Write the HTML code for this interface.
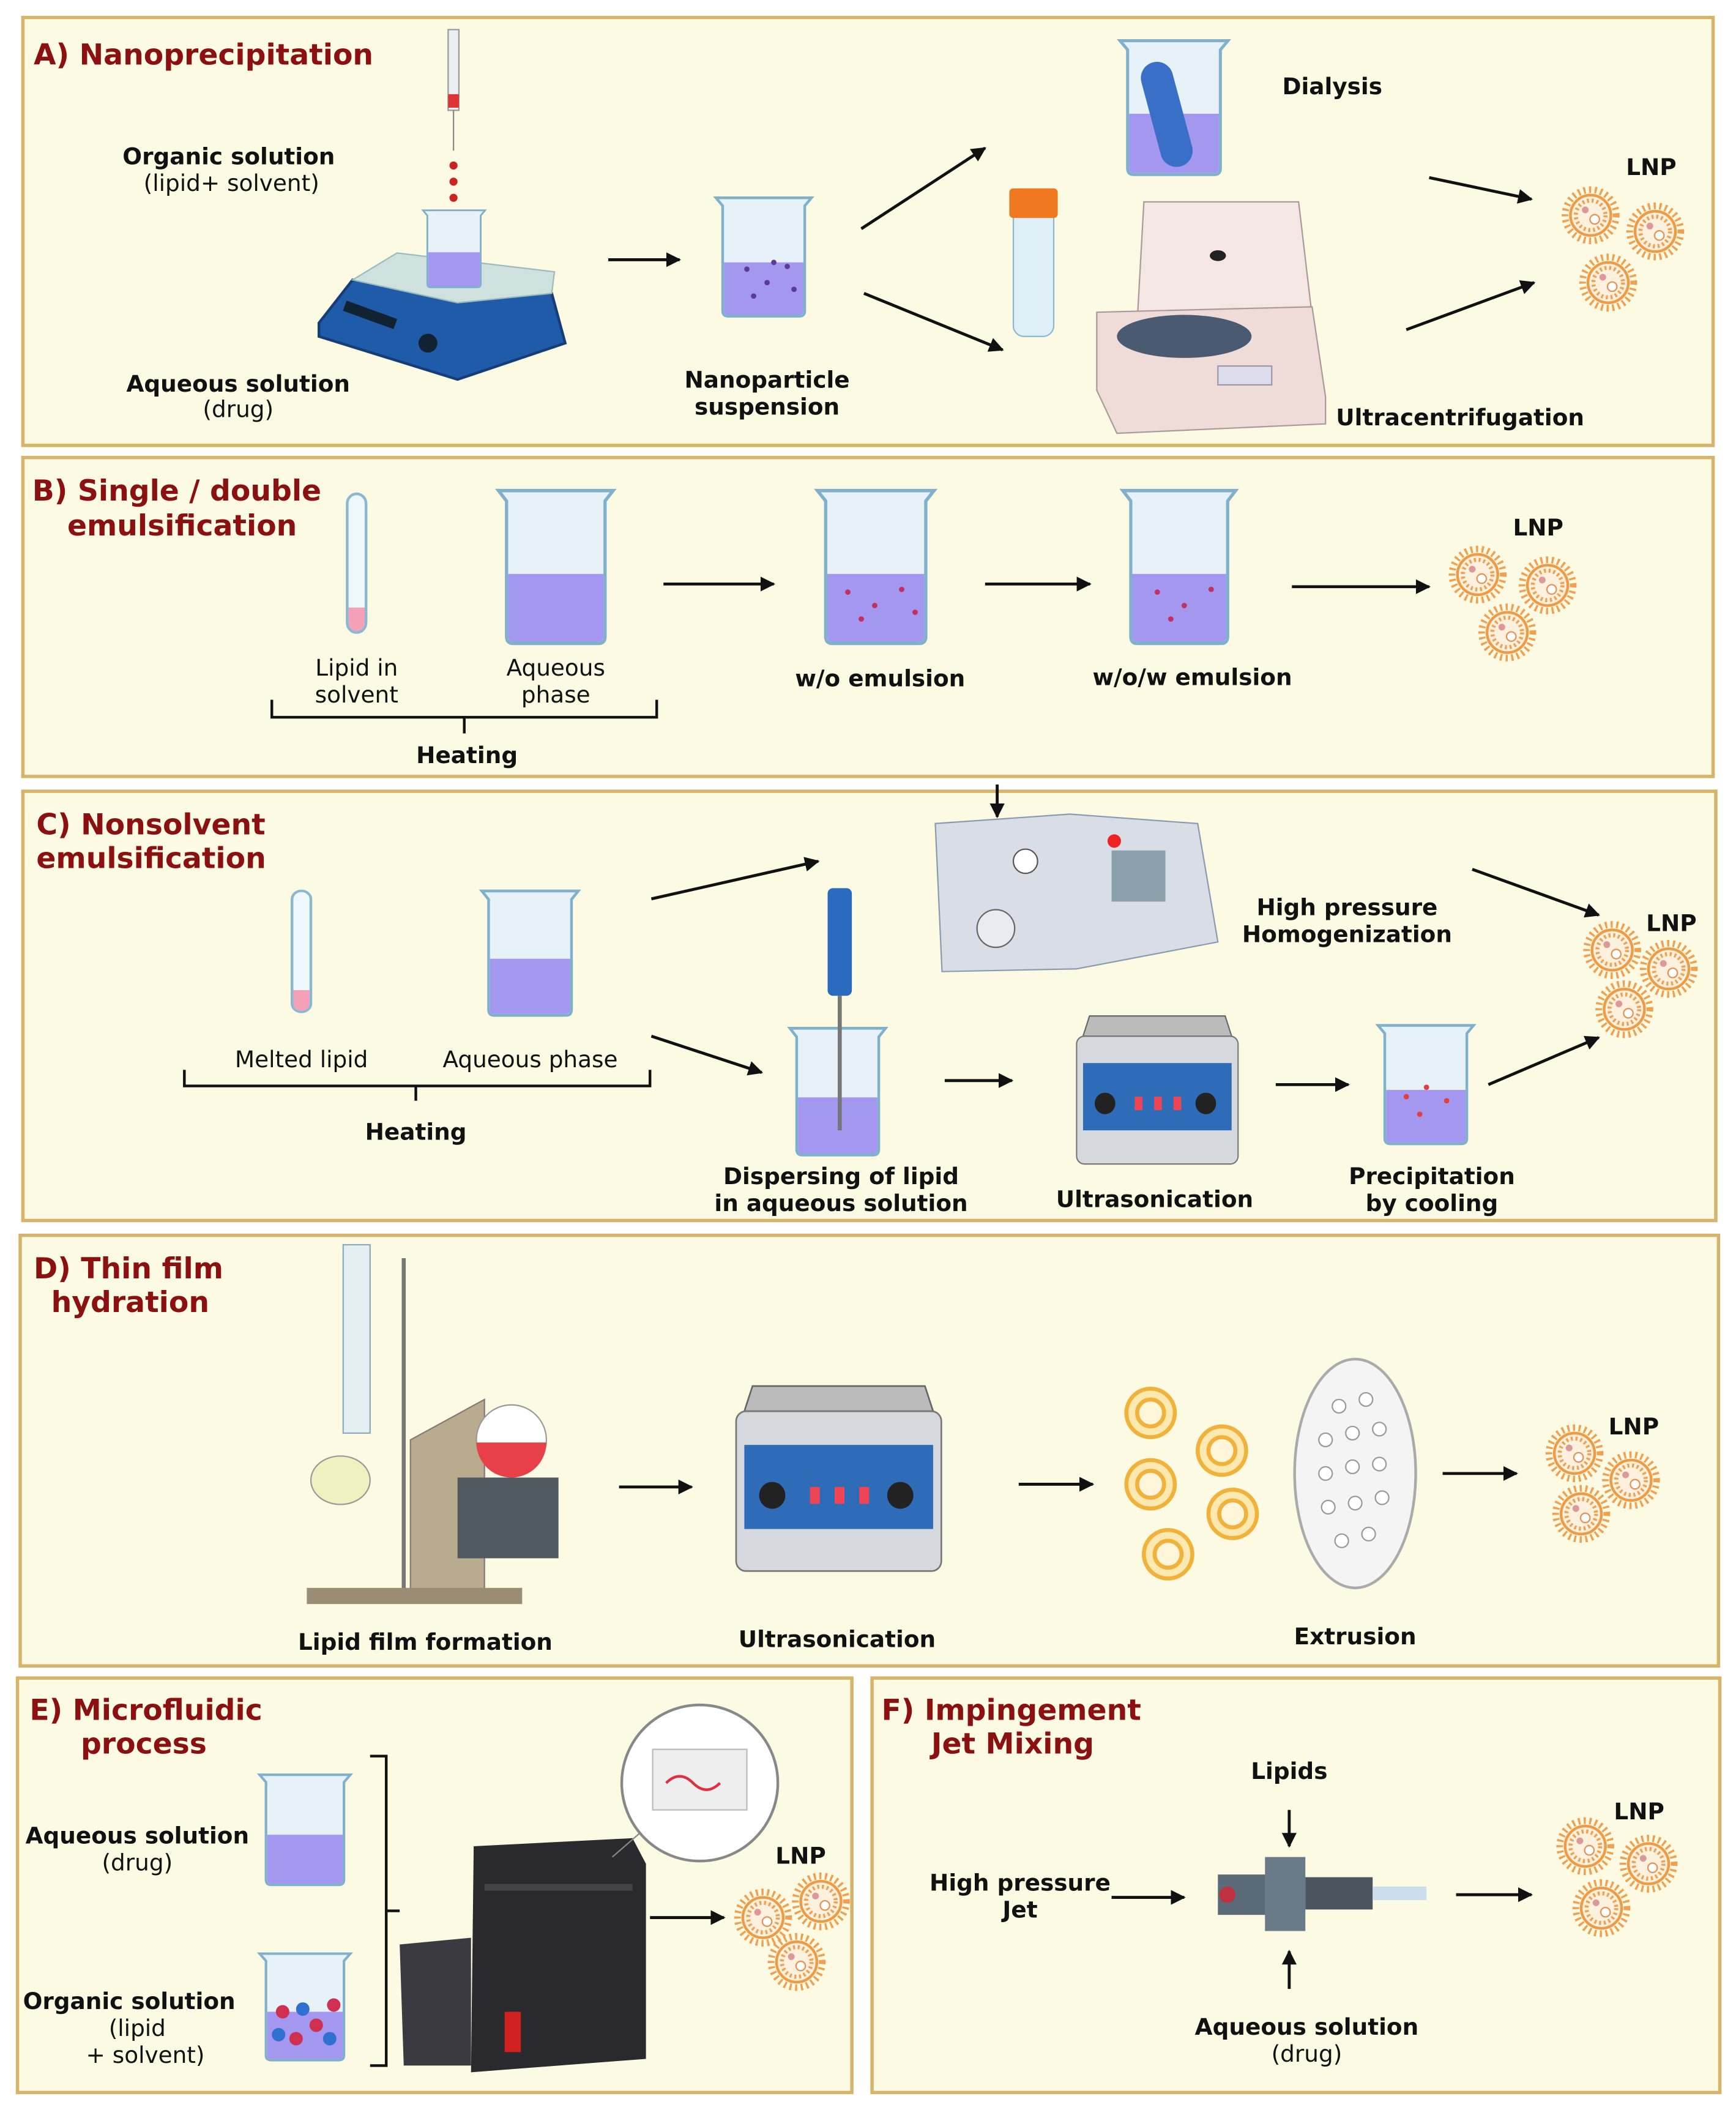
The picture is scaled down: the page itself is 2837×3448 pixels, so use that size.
<!DOCTYPE html>
<html><head><meta charset="utf-8"><style>
html,body{margin:0;padding:0;background:#fff}
svg{display:block}
text{font-family:"DejaVu Sans","Liberation Sans",sans-serif;fill:#111}
.t{font-size:21.5px;fill:#8b1010;font-weight:bold}
.l{font-size:17px;font-weight:bold;text-anchor:middle}
.s{font-size:17px;text-anchor:middle}
.ar{stroke:#111;stroke-width:2.2;fill:none;marker-end:url(#ah)}
.p{fill:#fdfae3;stroke:#d6b46a;stroke-width:2.5}
</style></head><body>
<svg width="2837" height="3448" viewBox="0 0 1290 1568" preserveAspectRatio="none" xmlns="http://www.w3.org/2000/svg">
<defs>
<marker id="ah" viewBox="0 0 10 10" refX="9" refY="5" markerWidth="5" markerHeight="5" orient="auto"><path d="M0,0L10,5L0,10z" fill="#111"/></marker>
<g id="lnp"><circle r="19" fill="none" stroke="#f0a050" stroke-width="5" stroke-dasharray="1.6 2.6"/><circle r="15" fill="#fdf0dc" stroke="#ef9a45" stroke-width="2"/><circle r="11" fill="none" stroke="#f0a050" stroke-width="3" stroke-dasharray="1.5 2"/><circle cx="3" cy="3" r="3.5" fill="#fff" stroke="#e89050"/><circle cx="-4" cy="-4" r="2.5" fill="#d99"/></g>
<g id="bk"><path d="M2,2 L73,2 L68,8 L68,86 Q68,90 64,90 L11,90 Q7,90 7,86 L7,8 Z" fill="#e6f2f8" stroke="#7fb0cc" stroke-width="2"/><path d="M8,50 L67,50 L67,86 Q67,89 64,89 L11,89 Q8,89 8,86Z" fill="#a497f0"/></g>
<g id="lip"><circle r="18" fill="#fde9b0" stroke="#f0b23a" stroke-width="3"/><circle r="10" fill="#fff6da" stroke="#f0b23a" stroke-width="3"/></g>
<g id="bath"><path d="M5,15 L120,15 L115,0 L10,0Z" fill="#bbb" stroke="#666"/><rect x="0" y="15" width="125" height="95" rx="6" fill="#d5d9de" stroke="#777"/><rect x="5" y="35" width="115" height="50" fill="#2f6cb8"/><circle cx="22" cy="65" r="8" fill="#222"/><circle cx="100" cy="65" r="8" fill="#222"/><rect x="45" y="60" width="6" height="10" fill="#e45"/><rect x="60" y="60" width="6" height="10" fill="#e45"/><rect x="75" y="60" width="6" height="10" fill="#e45"/></g>
<g id="tube"><rect x="0" y="0" width="14" height="100" rx="7" fill="#eef7fb" stroke="#8bb8d0" stroke-width="2"/><path d="M1,82 L13,82 L13,93 A6,6 0 0 1 1,93Z" fill="#f4a0b8"/></g>
</defs>

<rect width="1290" height="1568" fill="#fff"/>
<rect class="p" x="17" y="13" width="1256" height="318"/>
<rect class="p" x="17" y="340" width="1256" height="237"/>
<rect class="p" x="17" y="588" width="1258" height="319"/>
<rect class="p" x="15" y="918" width="1262" height="320"/>
<rect class="p" x="13" y="1247" width="620" height="308"/>
<rect class="p" x="648" y="1247" width="630" height="308"/>

<!-- A -->
<text class="t" x="25" y="48">A) Nanoprecipitation</text>
<rect x="333" y="22" width="8" height="60" fill="#e8eef2" stroke="#999"/><rect x="333" y="70" width="8" height="10" fill="#d33"/><line x1="337" y1="82" x2="337" y2="112" stroke="#888"/>
<circle cx="337" cy="123" r="3" fill="#c22"/><circle cx="337" cy="135" r="3" fill="#c22"/><circle cx="337" cy="147" r="3" fill="#c22"/>
<text class="l" x="170" y="122">Organic solution</text><text class="s" x="172" y="142">(lipid+ solvent)</text>
<path d="M237,240 L262,208 L410,218 L420,255 L340,282 L237,250 Z" fill="#1f5ba8" stroke="#143e78" stroke-width="2"/>
<path d="M262,208 L295,188 L412,202 L410,218 L340,225Z" fill="#cfe1df" stroke="#9bb"/>
<rect x="255" y="230" width="40" height="8" fill="#123" transform="rotate(20 275 234)"/><circle cx="318" cy="255" r="7" fill="#123"/>
<use href="#bk" transform="translate(313,155) scale(0.65)"/>
<text class="l" x="177" y="291">Aqueous solution</text><text class="s" x="177" y="310">(drug)</text>
<line class="ar" x1="452" y1="193" x2="505" y2="193"/>
<use href="#bk" transform="translate(530,145)"/>
<g fill="#5a3a9a"><circle cx="555" cy="200" r="2"/><circle cx="570" cy="210" r="2"/><circle cx="585" cy="198" r="2"/><circle cx="560" cy="220" r="2"/><circle cx="590" cy="215" r="2"/><circle cx="575" cy="195" r="2"/></g>
<text class="l" x="570" y="288">Nanoparticle</text><text class="l" x="570" y="308">suspension</text>
<line class="ar" x1="640" y1="170" x2="732" y2="110"/><line class="ar" x1="642" y1="218" x2="745" y2="260"/>
<use href="#bk" transform="translate(830,28) scale(1.13)"/><rect x="855" y="45" width="24" height="80" rx="12" fill="#3a6fc8" transform="rotate(-15 867 85)"/>
<text class="l" x="990" y="70">Dialysis</text>
<rect x="753" y="150" width="30" height="100" rx="8" fill="#dfeff8" stroke="#8bb8d0"/><rect x="750" y="140" width="36" height="22" rx="3" fill="#f07820"/>
<path d="M850,150 L965,150 L975,235 L845,240Z" fill="#f3e6e3" stroke="#a99"/><ellipse cx="905" cy="190" rx="6" ry="4" fill="#222"/>
<path d="M815,232 L975,228 L985,295 L985,315 L830,322 L815,290Z" fill="#efdcd8" stroke="#a99"/>
<ellipse cx="880" cy="250" rx="50" ry="16" fill="#4a5a70"/><rect x="905" y="272" width="40" height="14" fill="#dde" stroke="#99a"/>
<text class="l" x="1085" y="316">Ultracentrifugation</text>
<line class="ar" x1="1062" y1="132" x2="1138" y2="148"/><line class="ar" x1="1045" y1="245" x2="1140" y2="210"/>
<use href="#lnp" x="1182" y="160"/><use href="#lnp" x="1230" y="172"/><use href="#lnp" x="1195" y="210"/>
<text class="l" x="1227" y="130">LNP</text>

<!-- B -->
<text class="t" x="24" y="372">B) Single / double</text><text class="t" x="50" y="398">emulsification</text>
<use href="#tube" transform="translate(258,367) scale(1,1.03)"/>
<use href="#bk" transform="translate(368,362) scale(1.2,1.29)"/>
<text class="s" x="265" y="502">Lipid in</text><text class="s" x="265" y="522">solvent</text>
<text class="s" x="413" y="502">Aqueous</text><text class="s" x="413" y="522">phase</text>
<path d="M202,520 L202,533 L488,533 L488,520 M345,533 L345,545" stroke="#111" stroke-width="2" fill="none"/>
<text class="l" x="347" y="567">Heating</text>
<line class="ar" x1="493" y1="434" x2="575" y2="434"/>
<use href="#bk" transform="translate(605,362) scale(1.22,1.29)"/>
<text class="l" x="654" y="510">w/o emulsion</text>
<line class="ar" x1="732" y1="434" x2="810" y2="434"/>
<use href="#bk" transform="translate(832,362) scale(1.18,1.29)"/>
<g fill="#c03060"><circle cx="630" cy="440" r="2"/><circle cx="650" cy="450" r="2"/><circle cx="670" cy="438" r="2"/><circle cx="640" cy="460" r="2"/><circle cx="680" cy="455" r="2"/><circle cx="860" cy="440" r="2"/><circle cx="880" cy="450" r="2"/><circle cx="900" cy="438" r="2"/><circle cx="870" cy="460" r="2"/></g>
<text class="l" x="886" y="509">w/o/w emulsion</text>
<line class="ar" x1="960" y1="436" x2="1062" y2="436"/>
<use href="#lnp" x="1098" y="427"/><use href="#lnp" x="1150" y="435"/><use href="#lnp" x="1120" y="470"/>
<text class="l" x="1143" y="398">LNP</text>

<!-- C -->
<text class="t" x="27" y="620">C) Nonsolvent</text><text class="t" x="27" y="645">emulsification</text>
<use href="#tube" transform="translate(217,662) scale(1,0.9)"/>
<use href="#bk" transform="translate(356,660) scale(1.01,1.05)"/>
<text class="s" x="224" y="793">Melted lipid</text><text class="s" x="394" y="793">Aqueous phase</text>
<path d="M137,795 L137,807 L483,807 L483,795 M309,807 L309,818" stroke="#111" stroke-width="2" fill="none"/>
<text class="l" x="309" y="847">Heating</text>
<line class="ar" x1="484" y1="668" x2="608" y2="640"/>
<path d="M695,612 L795,605 L890,612 L905,700 L800,720 L700,722Z" fill="#d8dde6" stroke="#8a9ab0"/>
<rect x="826" y="632" width="40" height="38" fill="#8aa0aa"/><circle cx="828" cy="625" r="5" fill="#e22"/><circle cx="762" cy="640" r="9" fill="#fff" stroke="#555"/><circle cx="740" cy="690" r="14" fill="#e8ecf0" stroke="#666"/>
<line class="ar" x1="741" y1="583" x2="741" y2="607"/>
<text class="l" x="1001" y="680">High pressure</text><text class="l" x="1001" y="700">Homogenization</text>
<line class="ar" x1="1094" y1="646" x2="1188" y2="680"/>
<use href="#lnp" x="1198" y="706"/><use href="#lnp" x="1240" y="720"/><use href="#lnp" x="1207" y="750"/>
<text class="l" x="1242" y="692">LNP</text>
<line class="ar" x1="484" y1="770" x2="566" y2="797"/>
<use href="#bk" transform="translate(585,762) scale(1,1.07)"/>
<rect x="615" y="660" width="18" height="80" rx="4" fill="#2a6bc0"/><line x1="624" y1="740" x2="624" y2="840" stroke="#777" stroke-width="3"/>
<text class="l" x="625" y="880">Dispersing of lipid</text><text class="l" x="625" y="900">in aqueous solution</text>
<line class="ar" x1="702" y1="803" x2="752" y2="803"/>
<use href="#bath" transform="translate(800,755) scale(0.96,1)"/>
<text class="l" x="858" y="897">Ultrasonication</text>
<line class="ar" x1="948" y1="806" x2="1002" y2="806"/>
<use href="#bk" transform="translate(1022,760) scale(1,1)"/>
<g fill="#e04040"><circle cx="1045" cy="815" r="2"/><circle cx="1060" cy="808" r="2"/><circle cx="1075" cy="818" r="2"/><circle cx="1055" cy="828" r="2"/></g>
<text class="l" x="1064" y="880">Precipitation</text><text class="l" x="1064" y="900">by cooling</text>
<line class="ar" x1="1106" y1="806" x2="1188" y2="771"/>

<!-- D -->
<text class="t" x="25" y="950">D) Thin film</text><text class="t" x="38" y="975">hydration</text>
<rect x="255" y="925" width="20" height="140" fill="#e4eff4" stroke="#8ab"/>
<line x1="300" y1="935" x2="300" y2="1185" stroke="#777" stroke-width="3"/>
<ellipse cx="253" cy="1100" rx="22" ry="18" fill="#f0f0c0" stroke="#999"/>
<path d="M305,1070 L360,1040 L360,1185 L305,1185Z" fill="#b8ab8e" stroke="#877"/>
<rect x="228" y="1180" width="160" height="12" fill="#9a8d74"/>
<circle cx="380" cy="1070" r="26" fill="#fff" stroke="#999"/><path d="M354,1072 A26,26 0 0 0 406,1072Z" fill="#e84048"/>
<rect x="340" y="1098" width="75" height="60" fill="#505860"/>
<text class="l" x="316" y="1226">Lipid film formation</text>
<line class="ar" x1="460" y1="1105" x2="514" y2="1105"/>
<use href="#bath" transform="translate(547,1030) scale(1.22,1.25)"/>
<text class="l" x="622" y="1224">Ultrasonication</text>
<line class="ar" x1="757" y1="1103" x2="812" y2="1103"/>
<use href="#lip" x="855" y="1050"/><use href="#lip" x="908" y="1078"/><use href="#lip" x="855" y="1103"/><use href="#lip" x="916" y="1125"/><use href="#lip" x="868" y="1155"/>
<ellipse cx="1007" cy="1095" rx="45" ry="85" fill="#f4f4f4" stroke="#aaa" stroke-width="2"/>
<g fill="#fff" stroke="#999"><circle cx="995" cy="1045" r="5"/><circle cx="1015" cy="1040" r="5"/><circle cx="985" cy="1070" r="5"/><circle cx="1005" cy="1065" r="5"/><circle cx="1025" cy="1062" r="5"/><circle cx="985" cy="1095" r="5"/><circle cx="1005" cy="1090" r="5"/><circle cx="1025" cy="1088" r="5"/><circle cx="987" cy="1120" r="5"/><circle cx="1007" cy="1117" r="5"/><circle cx="1027" cy="1113" r="5"/><circle cx="997" cy="1145" r="5"/><circle cx="1017" cy="1140" r="5"/></g>
<text class="l" x="1007" y="1222">Extrusion</text>
<line class="ar" x1="1072" y1="1095" x2="1127" y2="1095"/>
<use href="#lnp" x="1170" y="1080"/><use href="#lnp" x="1212" y="1100"/><use href="#lnp" x="1175" y="1125"/>
<text class="l" x="1214" y="1066">LNP</text>

<!-- E -->
<text class="t" x="22" y="1278">E) Microfluidic</text><text class="t" x="60" y="1303">process</text>
<use href="#bk" transform="translate(191,1317) scale(0.95,0.93)"/>
<text class="l" x="102" y="1370">Aqueous solution</text><text class="s" x="102" y="1390">(drug)</text>
<use href="#bk" transform="translate(191,1450) scale(0.95,0.9)"/>
<g fill="#d03050"><circle cx="210" cy="1495" r="5"/><circle cx="235" cy="1505" r="5"/><circle cx="220" cy="1515" r="5"/><circle cx="248" cy="1490" r="5"/></g>
<g fill="#3070d0"><circle cx="225" cy="1493" r="5"/><circle cx="245" cy="1515" r="5"/><circle cx="207" cy="1512" r="5"/></g>
<text class="l" x="96" y="1493">Organic solution</text><text class="s" x="102" y="1513">(lipid</text><text class="s" x="108" y="1533">+ solvent)</text>
<path d="M275,1305 L287,1305 L287,1535 L275,1535 M287,1420 L297,1420" stroke="#111" stroke-width="2" fill="none"/>
<path d="M352,1372 L470,1366 L480,1385 L480,1530 L350,1540Z" fill="#2a2a2e"/>
<rect x="360" y="1400" width="110" height="5" fill="#444"/>
<path d="M297,1445 L350,1440 L350,1535 L300,1535Z" fill="#3a3a40"/>
<rect x="375" y="1495" width="12" height="30" fill="#d02020"/>
<line x1="455" y1="1380" x2="478" y2="1360" stroke="#888"/>
<circle cx="520" cy="1325" r="58" fill="#fff" stroke="#888" stroke-width="2"/>
<rect x="485" y="1300" width="70" height="45" fill="#eee" stroke="#bbb"/><path d="M495,1325 Q505,1315 515,1325 T535,1325" stroke="#e03040" stroke-width="2" fill="none"/>
<line class="ar" x1="483" y1="1425" x2="538" y2="1425"/>
<use href="#lnp" x="567" y="1425"/><use href="#lnp" x="610" y="1413"/><use href="#lnp" x="592" y="1458"/>
<text class="l" x="595" y="1385">LNP</text>

<!-- F -->
<text class="t" x="655" y="1278">F) Impingement</text><text class="t" x="692" y="1303">Jet Mixing</text>
<text class="l" x="958" y="1322">Lipids</text>
<line class="ar" x1="958" y1="1345" x2="958" y2="1372"/>
<rect x="905" y="1393" width="40" height="30" fill="#5a6a78"/><rect x="940" y="1380" width="30" height="55" fill="#6a7a88"/><rect x="970" y="1395" width="50" height="24" fill="#4a5560"/><rect x="1020" y="1402" width="40" height="10" fill="#cde"/>
<circle cx="912" cy="1408" r="6" fill="#c03040"/>
<text class="l" x="758" y="1405">High pressure</text><text class="l" x="758" y="1425">Jet</text>
<line class="ar" x1="826" y1="1410" x2="880" y2="1410"/>
<line class="ar" x1="958" y1="1478" x2="958" y2="1450"/>
<text class="l" x="971" y="1512">Aqueous solution</text><text class="s" x="971" y="1532">(drug)</text>
<line class="ar" x1="1082" y1="1408" x2="1138" y2="1408"/>
<use href="#lnp" x="1178" y="1372"/><use href="#lnp" x="1225" y="1385"/><use href="#lnp" x="1190" y="1418"/>
<text class="l" x="1218" y="1352">LNP</text>
</svg>
</body></html>
